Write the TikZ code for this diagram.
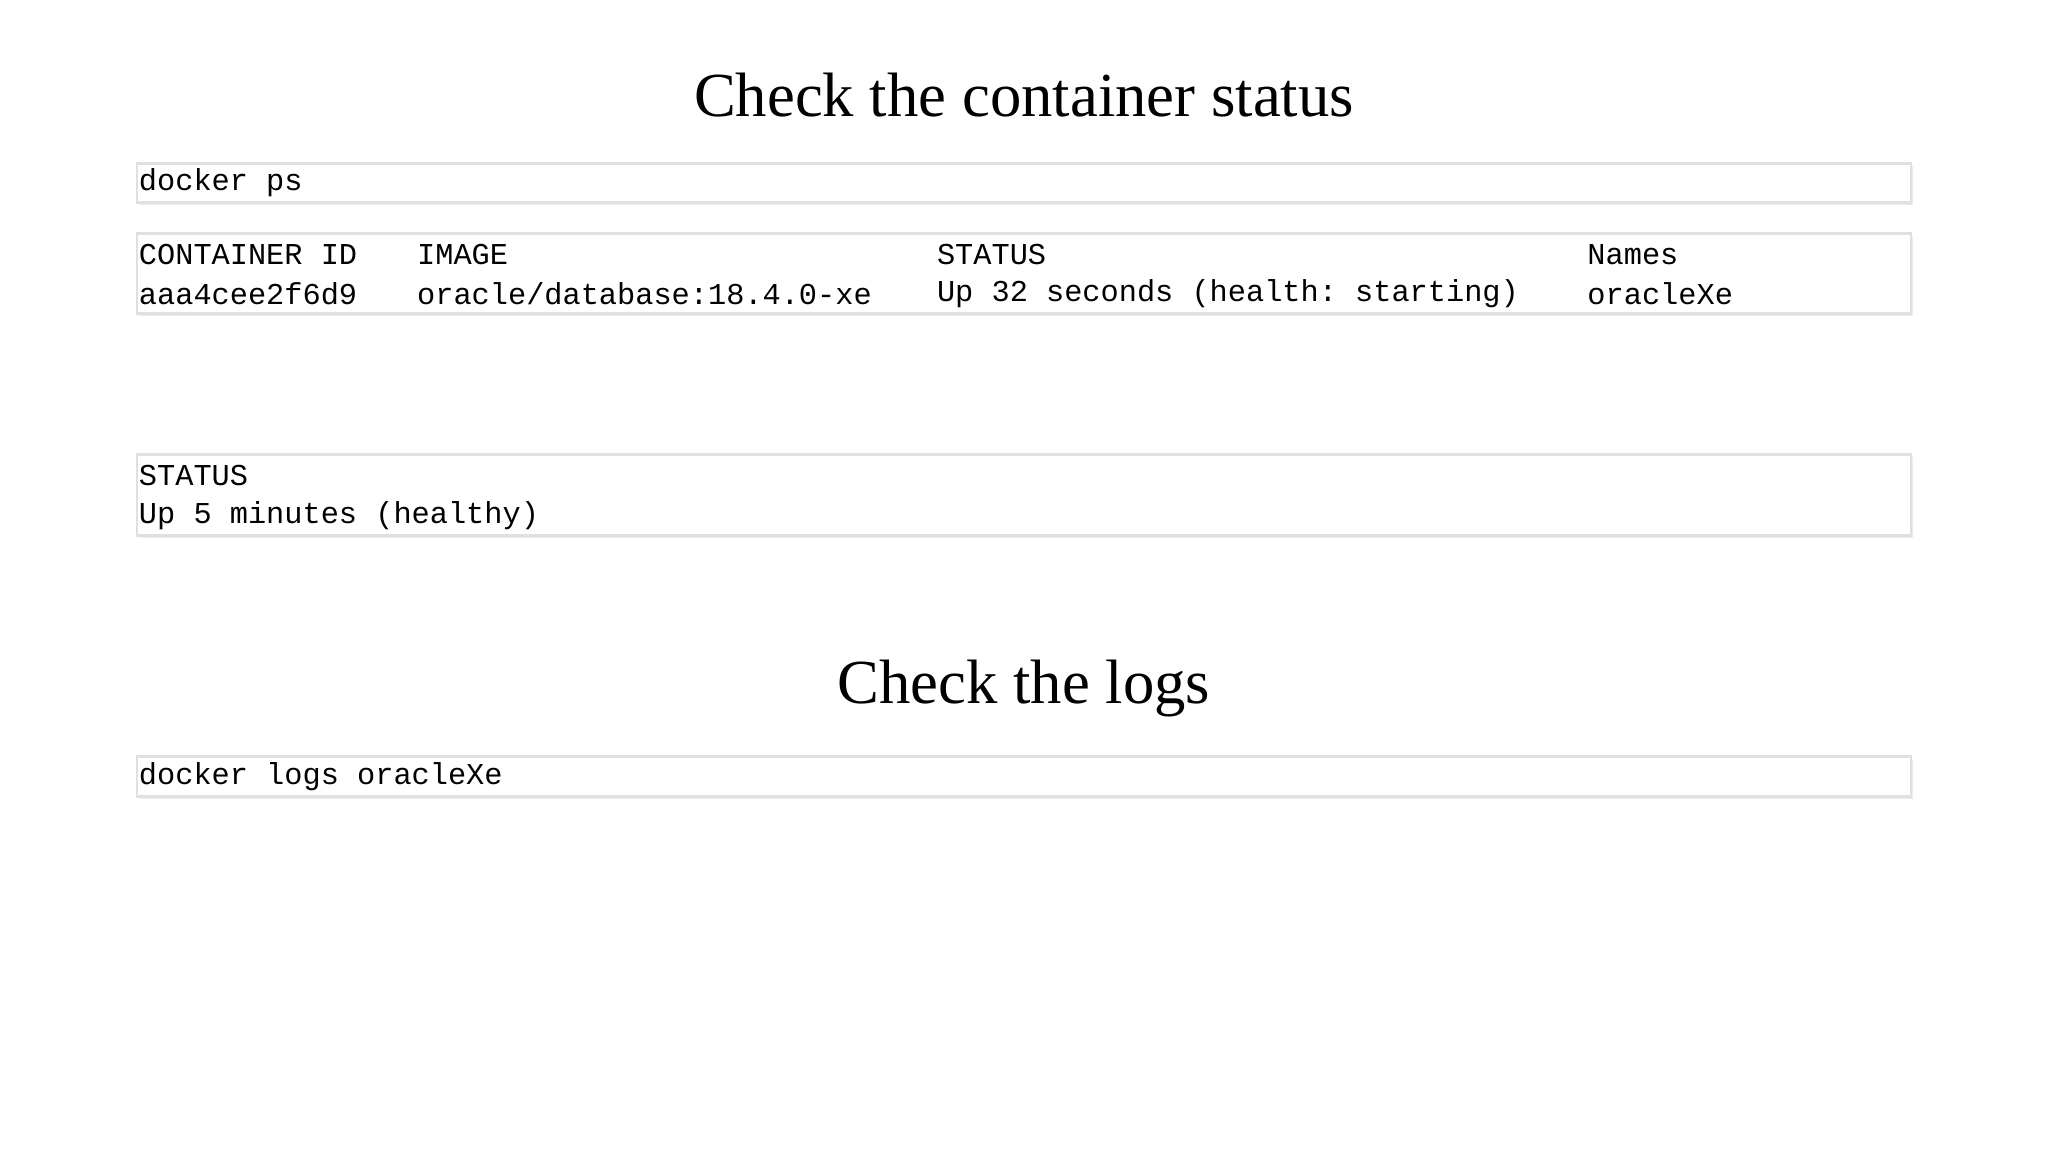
\documentclass[tikz,border=0pt]{standalone}
\usepackage{fontspec}
\setmainfont{Liberation Serif}
\setmonofont{Liberation Mono}
\usetikzlibrary{shadows}
\begin{document}
\begin{tikzpicture}[x=0.5pt,y=-0.5pt,
  codebox/.style={draw=black!12,line width=1pt,fill=white,drop shadow={shadow xshift=1pt,shadow yshift=-1pt,opacity=0.15}},
  code/.style={anchor=west,inner sep=0pt,font=\fontsize{11.6}{14}\ttfamily},
  title/.style={inner sep=0pt,font=\fontsize{24}{28}\selectfont}]
\useasboundingbox[fill=white] (0,0) rectangle (1568,882);
\node[title] (t1) at (784,73) {Check the container status};
\draw[codebox] (105,125) rectangle (1463,155);
\node[code] (c1) at (106,140) {docker ps};
\draw[codebox] (105,179) rectangle (1463,240);
\node[code] (h1) at (106,195) {CONTAINER ID};
\node[code] (h2) at (319,195) {IMAGE};
\node[code] (h3) at (717,195) {STATUS};
\node[code] (h4) at (1215,195) {Names};
\node[code] (r1) at (106,225) {aaa4cee2f6d9};
\node[code] (r2) at (319,225) {oracle/database:18.4.0-xe};
\node[code] (r3) at (717,225) {Up 32 seconds (health: starting)};
\node[code] (r4) at (1215,225) {oracleXe};
\draw[codebox] (105,348) rectangle (1463,410);
\node[code] (s1) at (106,364) {STATUS};
\node[code] (s2) at (106,395) {Up 5 minutes (healthy)};
\node[title] (t2) at (784,527) {Check the logs};
\draw[codebox] (105,579) rectangle (1463,610);
\node[code] (c2) at (106,595) {docker logs oracleXe};
\end{tikzpicture}
\end{document}
